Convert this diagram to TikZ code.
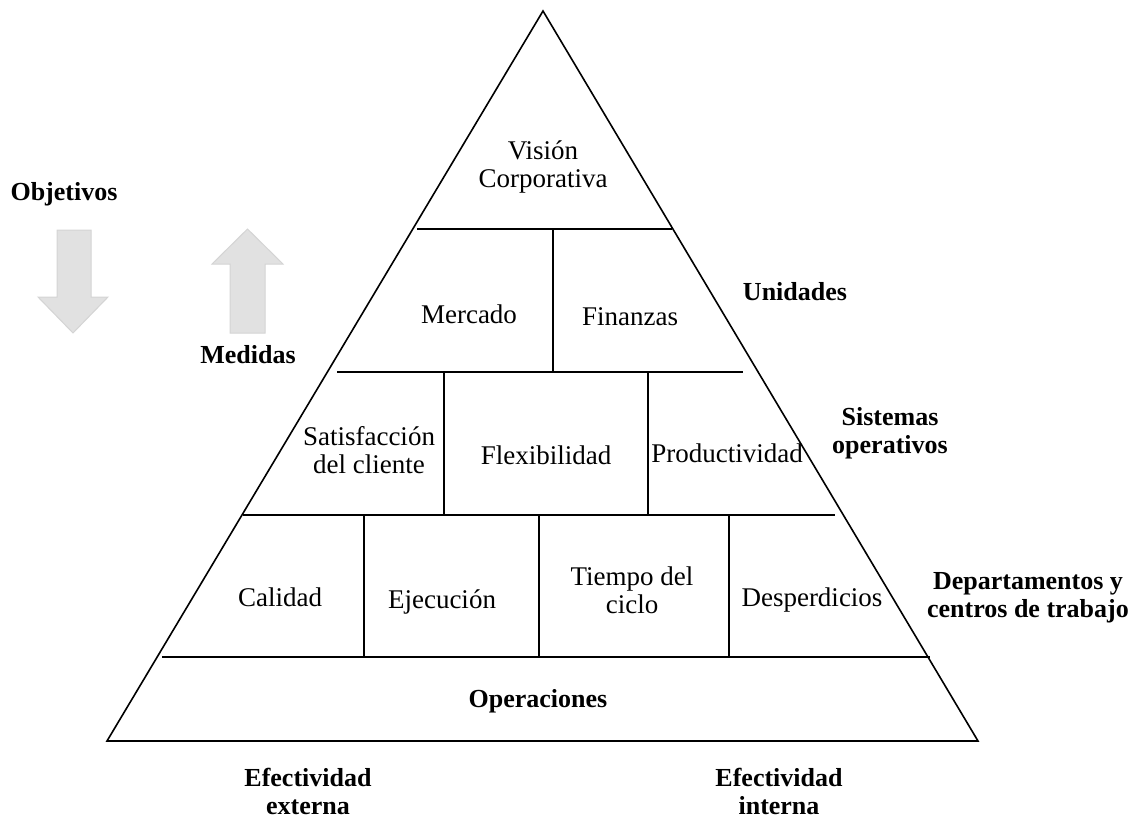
\documentclass[tikz,border=0pt]{standalone}
\usepackage{fontspec}
\setmainfont{Liberation Serif}
\definecolor{arrfill}{RGB}{225,225,225}
\definecolor{arrdraw}{RGB}{212,212,212}
\begin{document}
\begin{tikzpicture}[x=1pt,y=-1pt,
  lbl/.style={align=center,inner sep=0pt,anchor=base,font=\fontsize{27}{27.5}\selectfont},
  blbl/.style={align=center,inner sep=0pt,anchor=base,font=\fontsize{26}{27.5}\selectfont\bfseries},
  edge/.style={line width=1.6pt,line join=miter},
  bigarrow/.style={fill=arrfill,draw=arrdraw,line width=1pt}]
\useasboundingbox (0,0) rectangle (1140,820);
% pyramid
\coordinate (apex) at (543,11);
\coordinate (bl) at (107,741);
\coordinate (br) at (978,741);
\draw[edge] (apex) -- (br) -- (bl) -- cycle;
% horizontal dividers
\coordinate (h1l) at (417,229); \coordinate (h1r) at (672,229);
\coordinate (h2l) at (337,372); \coordinate (h2r) at (743,372);
\coordinate (h3l) at (243,515); \coordinate (h3r) at (835,515);
\coordinate (h4l) at (162,657); \coordinate (h4r) at (930,657);
\draw[edge] (h1l) -- (h1r);
\draw[edge] (h2l) -- (h2r);
\draw[edge] (h3l) -- (h3r);
\draw[edge] (h4l) -- (h4r);
% vertical dividers
\coordinate (v1t) at (553,229); \coordinate (v1b) at (553,372);
\coordinate (v2t) at (444,372); \coordinate (v2b) at (444,515);
\coordinate (v3t) at (648,372); \coordinate (v3b) at (648,515);
\coordinate (v4t) at (364,515); \coordinate (v4b) at (364,657);
\coordinate (v5t) at (539,515); \coordinate (v5b) at (539,657);
\coordinate (v6t) at (729,515); \coordinate (v6b) at (729,657);
\draw[edge] (v1t) -- (v1b);
\draw[edge] (v2t) -- (v2b);
\draw[edge] (v3t) -- (v3b);
\draw[edge] (v4t) -- (v4b);
\draw[edge] (v5t) -- (v5b);
\draw[edge] (v6t) -- (v6b);
% cell texts (positions are baselines of the last line)
\node[lbl] (vision) at (543,187) {Visión\\Corporativa};
\node[lbl] (mercado) at (469,323) {Mercado};
\node[lbl] (finanzas) at (630,325) {Finanzas};
\node[lbl] (satisf) at (369,473) {Satisfacción\\del cliente};
\node[lbl] (flex) at (546,464) {Flexibilidad};
\node[lbl] (prod) at (727,462) {Productividad};
\node[lbl] (calidad) at (280,606) {Calidad};
\node[lbl] (ejec) at (442,608) {Ejecución};
\node[lbl] (tiempo) at (632,613) {Tiempo del\\ciclo};
\node[lbl] (desp) at (812,606) {Desperdicios};
\node[blbl] (oper) at (538,707) {Operaciones};
% side labels
\node[blbl] (objetivos) at (64,200) {Objetivos};
\node[blbl] (medidas) at (248,363) {Medidas};
\node[blbl] (unidades) at (795,300) {Unidades};
\node[blbl] (sistemas) at (890,453) {Sistemas\\operativos};
\node[blbl] (deptos) at (1028,617) {Departamentos y\\centros de trabajo};
\node[blbl] (efext) at (308,814) {Efectividad\\externa};
\node[blbl] (efint) at (779,814) {Efectividad\\interna};
% big arrows
\draw[bigarrow] (57,230) -- (91,230) -- (91,297) -- (108,297) -- (73,333) -- (38,297) -- (57,297) -- cycle;
\draw[bigarrow] (230,333) -- (265,333) -- (265,264) -- (283,264) -- (247.5,229) -- (212,264) -- (230,264) -- cycle;
\end{tikzpicture}
\end{document}
